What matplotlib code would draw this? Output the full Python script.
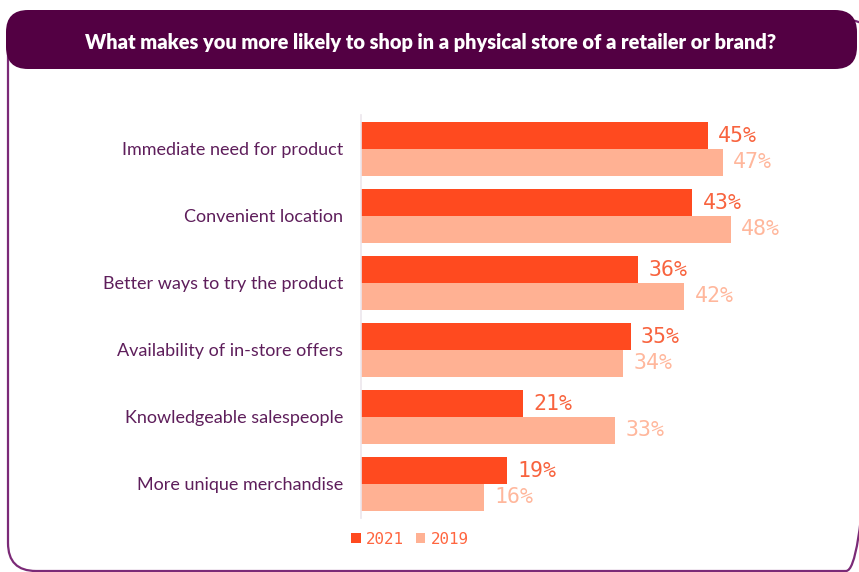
import matplotlib.pyplot as plt
from matplotlib.patches import FancyBboxPatch, Patch

categories = [
    "Immediate need for product",
    "Convenient location",
    "Better ways to try the product",
    "Availability of in-store offers",
    "Knowledgeable salespeople",
    "More unique merchandise",
]
values_2021 = [45, 43, 36, 35, 21, 19]
values_2019 = [47, 48, 42, 34, 33, 16]
series_labels = ["2021", "2019"]
title = "What makes you more likely to shop in a physical store of a retailer or brand?"

W, H = 859, 572
c2021 = "#FF4A1F"
c2019 = "#FFB193"
lab2021 = "#F8633E"
lab2019 = "#FFB79C"
purple = "#530043"
cat_color = "#5E1E5B"
mono = "DejaVu Sans Mono"
sans = "Lato"

fig = plt.figure(figsize=(W / 100, H / 100), dpi=100)
fig.patch.set_facecolor("white")

# Pixel-space canvas for the frame and header
bg = fig.add_axes([0, 0, 1, 1], zorder=0)
bg.set_xlim(0, W)
bg.set_ylim(H, 0)
bg.axis("off")

frame = FancyBboxPatch((8, 20), 866, 551,
                       boxstyle="round,pad=0,rounding_size=28",
                       facecolor="none", edgecolor="#7B2A77", linewidth=1.6)
bg.add_patch(frame)
header = FancyBboxPatch((6, 10), 851, 59,
                        boxstyle="round,pad=0,rounding_size=22",
                        facecolor=purple, edgecolor="none")
bg.add_patch(header)
bg.text(431, 43, title, ha="center", va="center", color="white",
        fontsize=14.4, fontweight="heavy", family=sans)

# Bar chart
left_px, right_px = 361, W
top_px, bot_px = 115.5, 517.5
ax = fig.add_axes([left_px / W, 1 - bot_px / H, (right_px - left_px) / W,
                   (bot_px - top_px) / H], zorder=1)
ax.patch.set_alpha(0)
px_per_unit = 7.7
ax.set_xlim(0, (right_px - left_px) / px_per_unit)
ax.set_ylim(len(categories) - 0.5, -0.5)

ys = list(range(len(categories)))
h = 0.4
y21 = [y - h / 2 for y in ys]
y19 = [y + h / 2 for y in ys]
b21 = ax.barh(y21, values_2021, height=h, color=c2021, label=series_labels[0])
b19 = ax.barh(y19, values_2019, height=h, color=c2019, label=series_labels[1])

for v, y in zip(values_2021, y21):
    ax.annotate(f"{v}%", (v, y), xytext=(7.5, 0), textcoords="offset points",
                ha="left", va="center", fontsize=15.5, family=mono, color=lab2021)
for v, y in zip(values_2019, y19):
    ax.annotate(f"{v}%", (v, y), xytext=(7.5, 0), textcoords="offset points",
                ha="left", va="center", fontsize=15.5, family=mono, color=lab2019)

ax.set_yticks(ys)
ax.set_yticklabels(categories, fontsize=13, family=sans, color=cat_color)
ax.tick_params(axis="y", length=0, pad=13)
ax.set_xticks([])
for s in ["top", "right", "bottom"]:
    ax.spines[s].set_visible(False)
ax.spines["left"].set_color("#ECE6EC")
ax.spines["left"].set_linewidth(1.2)

handles = [Patch(facecolor=c2021, edgecolor="none"),
           Patch(facecolor=c2019, edgecolor="none")]
leg = fig.legend(handles, series_labels, loc="center left",
                 bbox_to_anchor=(351 / W, 1 - 539 / H), ncol=2, frameon=False,
                 handlelength=0.6, handleheight=0.6, handletextpad=0.35,
                 columnspacing=0.75, borderpad=0, borderaxespad=0,
                 prop={"family": mono, "size": 11.4})
for t in leg.get_texts():
    t.set_color("#FF6640")

fig.savefig("out.png", dpi=100, facecolor="white")
